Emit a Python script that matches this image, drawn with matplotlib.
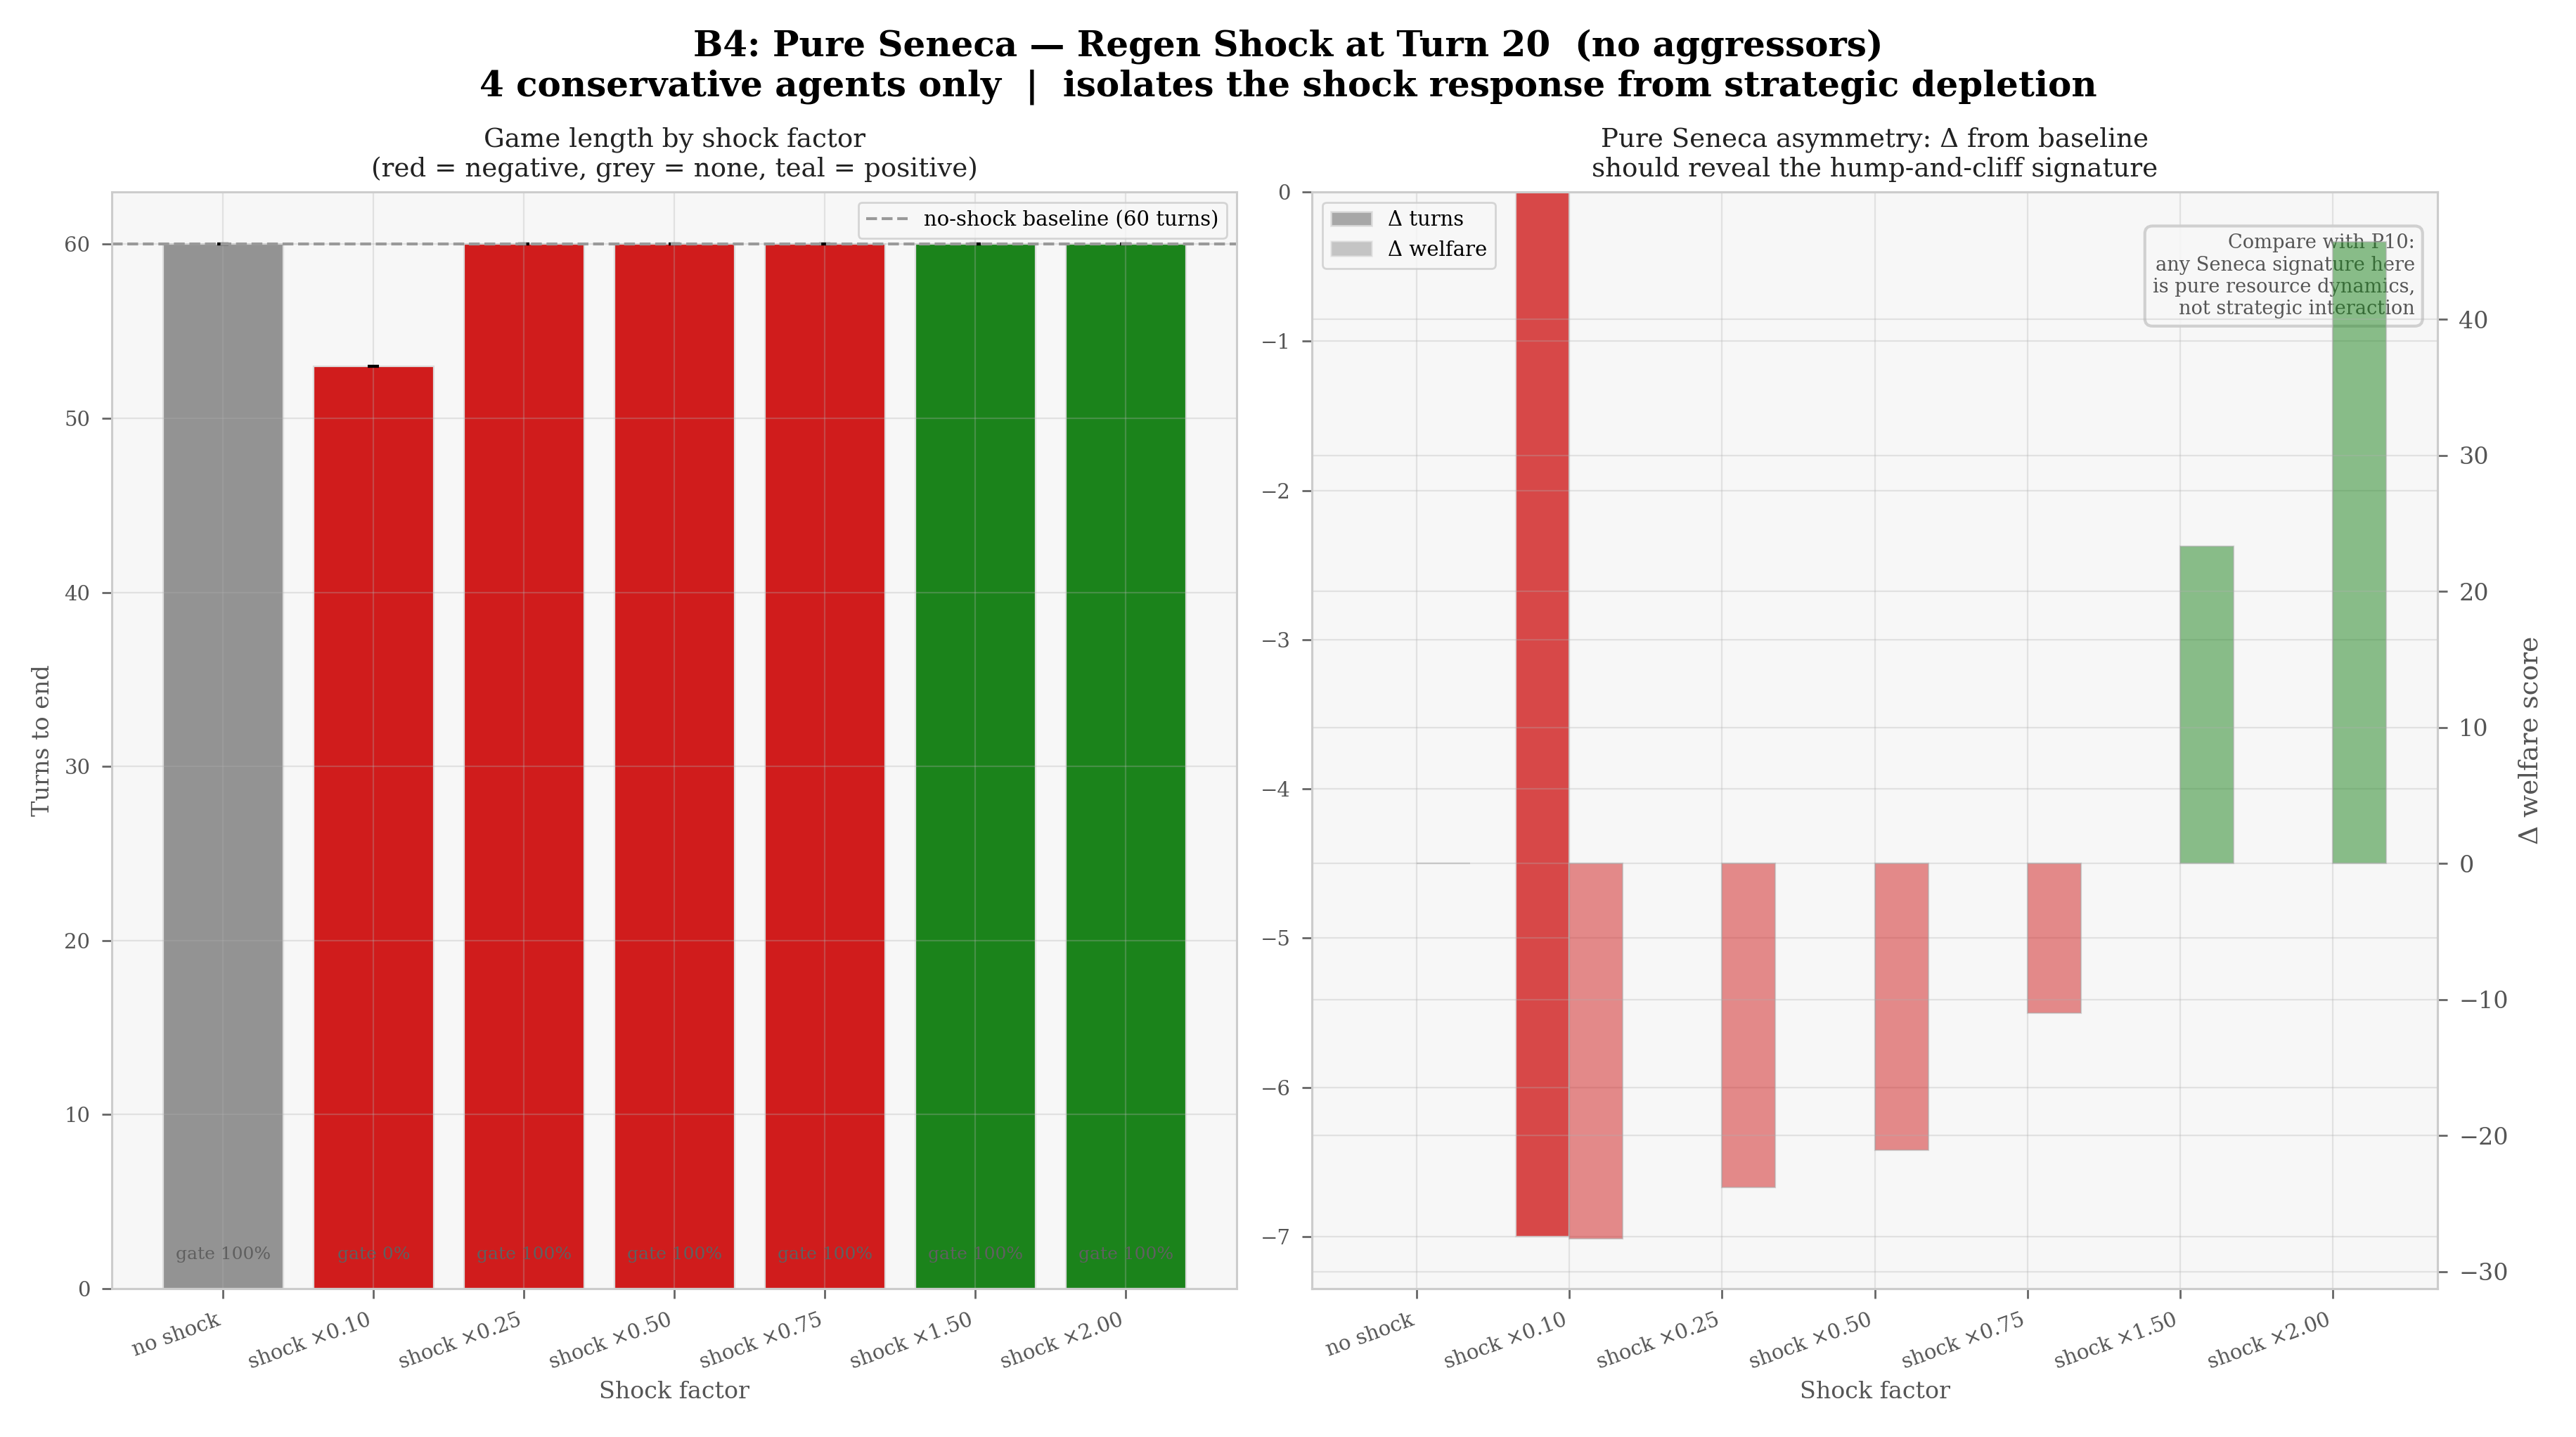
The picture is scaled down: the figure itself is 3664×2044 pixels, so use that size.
import numpy as np
import matplotlib
matplotlib.use("Agg")
import matplotlib.pyplot as plt
from matplotlib.patches import Patch

# data
labels = ["no shock", "shock ×0.10", "shock ×0.25", "shock ×0.50",
          "shock ×0.75", "shock ×1.50", "shock ×2.00"]
turns_mean = [60, 53, 60, 60, 60, 60, 60]
turns_err = [0, 0, 0, 0, 0, 0, 0]
gate_pct = [100, 0, 100, 100, 100, 100, 100]
shock_sign = ["none", "neg", "neg", "neg", "neg", "pos", "pos"]
baseline_turns = 60
delta_turns = [0, -7, 0, 0, 0, 0, 0]
delta_welfare = [0, -27.6, -23.8, -21.1, -11.0, 23.3, 45.7]

plt.rcParams.update({
    "font.family": "DejaVu Serif",
    "axes.facecolor": "#f7f7f7",
    "axes.edgecolor": "#cccccc",
    "axes.linewidth": 1.1,
    "axes.grid": True,
    "axes.titlepad": 8,
    "grid.color": "#b0b0b0",
    "grid.alpha": 0.3,
    "grid.linewidth": 0.8,
    "xtick.color": "#666666",
    "ytick.color": "#666666",
    "xtick.labelcolor": "#555555",
    "ytick.labelcolor": "#555555",
    "xtick.labelsize": 10.5,
    "ytick.labelsize": 10.5,
    "xtick.major.size": 5,
    "ytick.major.size": 5,
    "xtick.major.width": 1,
    "ytick.major.width": 1,
    "xtick.major.pad": 6,
    "ytick.major.pad": 6,
    "axes.labelcolor": "#555555",
    "axes.labelsize": 12,
    "axes.titlesize": 13.4,
    "axes.titlecolor": "#222222",
    "legend.fontsize": 10.5,
    "legend.edgecolor": "#cccccc",
})

base_col = {"none": "#939393", "neg": "#d01c1c", "pos": "#1b831b"}

def sign_of(v):
    return "neg" if v < 0 else "pos" if v > 0 else "none"

x = np.arange(len(labels))

fig, (ax1, ax) = plt.subplots(1, 2, figsize=(18.32, 10.22), dpi=200)
fig.subplots_adjust(left=0.0434, right=0.9462, bottom=0.1032, top=0.8664, wspace=0.0668)

# left: game length
ax1.bar(x, turns_mean, width=0.8, yerr=turns_err, capsize=3,
        color=[base_col[s] for s in shock_sign], edgecolor="#dddddd", linewidth=0.8,
        error_kw=dict(ecolor="black", elinewidth=1.2, capthick=1.5))
ax1.axhline(baseline_turns, color="#999999", linestyle="--", linewidth=1.5,
            label=f"no-shock baseline ({baseline_turns} turns)")
for xi, g in zip(x, gate_pct):
    ax1.text(xi, 1.5, f"gate {g}%", ha="center", va="bottom", fontsize=9, color="#606060")
ax1.set_xticks(x)
ax1.set_xticklabels(labels, rotation=20, ha="right")
ax1.set_xlabel("Shock factor")
ax1.set_ylabel("Turns to end", labelpad=5)
ax1.set_title("Game length by shock factor\n(red = negative, grey = none, teal = positive)")
ax1.legend(loc="upper right")

# right: deltas from baseline
w = 0.35
ax.bar(x - w / 2, delta_turns, width=w, color=[base_col[sign_of(v)] for v in delta_turns],
       alpha=0.8, edgecolor="#dddddd", linewidth=0.8)
ax.set_xticks(x)
ax.set_xticklabels(labels, rotation=20, ha="right")
ax.set_xlabel("Shock factor")
ax.set_title("Pure Seneca asymmetry: Δ from baseline\nshould reveal the hump-and-cliff signature")
ax.legend(handles=[Patch(facecolor="#939393", alpha=0.8, edgecolor="#dddddd", label="Δ turns"),
                   Patch(facecolor="#939393", alpha=0.5, edgecolor="#dddddd", label="Δ welfare")],
          loc="upper left")
ax.text(0.98, 0.962, "Compare with P10:\nany Seneca signature here\nis pure resource dynamics,\nnot strategic interaction",
        transform=ax.transAxes, ha="right", va="top", fontsize=9.8, color="#555555",
        bbox=dict(boxstyle="round,pad=0.4", facecolor="#f7f7f7", edgecolor="#cccccc",
                  linewidth=1.5, alpha=0.9))

ax2 = ax.twinx()
ax2.bar(x + w / 2, delta_welfare, width=w, color=[base_col[sign_of(v)] for v in delta_welfare],
        alpha=0.5, edgecolor="#aaaaaa", linewidth=0.8)
ax2.tick_params(axis="y", labelsize=12)
ax2.set_ylabel("Δ welfare score", fontsize=13.5, labelpad=5)

fig.suptitle("B4: Pure Seneca — Regen Shock at Turn 20  (no aggressors)\n"
             "4 conservative agents only  |  isolates the shock response from strategic depletion",
             fontsize=18, fontweight="bold")

fig.savefig("out.png", dpi=200)
